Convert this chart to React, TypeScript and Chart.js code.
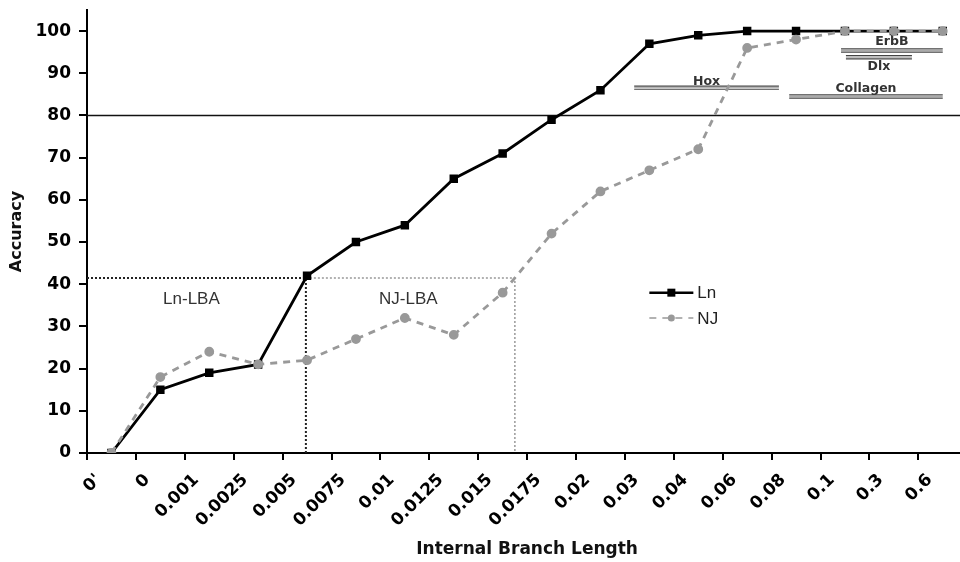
import React, { useEffect, useRef } from 'react';
import { Chart, registerables } from 'chart.js';

Chart.register(...registerables);

const categories = ["0'", '0', '0.001', '0.0025', '0.005', '0.0075', '0.01', '0.0125', '0.015', '0.0175', '0.02', '0.03', '0.04', '0.06', '0.08', '0.1', '0.3', '0.6'];
const lnValues = [0, 15, 19, 21, 42, 50, 54, 65, 71, 79, 86, 97, 99, 100, 100, 100, 100, 100];
const njValues = [0, 18, 24, 21, 22, 27, 32, 28, 38, 52, 62, 67, 72, 96, 98, 100, 100, 100];
const seriesNames = ['Ln', 'NJ'];
const yMax = 100;
const yStep = 10;
const thresholdLevel = 80;
const lbaLevel = 41.5;
const lbaLabels = ['Ln-LBA', 'NJ-LBA'];
const geneNames = ['Hox', 'Collagen', 'ErbB', 'Dlx'];
const geneFrom = [10.69, 13.86, 14.92, 15.02];
const geneTo = [13.65, 17.0, 17.0, 16.37];
const geneLevel = [86.6, 84.5, 95.4, 93.8];
const geneLabelLevel = [88.1, 86.4, 97.4, 91.5];

const TICK_FONT = { family: '"DejaVu Sans", Verdana, sans-serif', size: 17, weight: 'bold' as const };
const XTITLE_FONT = { family: '"DejaVu Sans", Verdana, sans-serif', size: 17, weight: 'bold' as const };
const YTITLE_FONT = { family: '"DejaVu Sans", Verdana, sans-serif', size: 16, weight: 'bold' as const };

const CANVAS_W = 974;
const CANVAS_H = 562;

function crossX(values: number[], level: number, xs: any): number {
  for (let i = 0; i < values.length - 1; i++) {
    if (values[i] < level && values[i + 1] >= level) {
      const f = (level - values[i]) / (values[i + 1] - values[i]);
      const a = xs.getPixelForValue(i);
      const b = xs.getPixelForValue(i + 1);
      return a + f * (b - a);
    }
  }
  return xs.getPixelForValue(0);
}

const overlay = {
  id: 'overlay',
  beforeDatasetsDraw(chart: any) {
    const { ctx, chartArea, scales } = chart;
    const xs = scales.x;
    const ys = scales.y;
    ctx.save();
    const yT = ys.getPixelForValue(thresholdLevel);
    ctx.strokeStyle = '#111';
    ctx.lineWidth = 1.5;
    ctx.beginPath();
    ctx.moveTo(chartArea.left, yT);
    ctx.lineTo(chartArea.right, yT);
    ctx.stroke();

    const yL = ys.getPixelForValue(lbaLevel);
    const yB = ys.getPixelForValue(0);
    const xLn = crossX(lnValues, lbaLevel, xs);
    const xNj = crossX(njValues, lbaLevel, xs);
    ctx.setLineDash([2, 2]);
    ctx.strokeStyle = '#999';
    ctx.lineWidth = 1.5;
    ctx.beginPath();
    ctx.moveTo(xLn, yL);
    ctx.lineTo(xNj, yL);
    ctx.lineTo(xNj, yB);
    ctx.stroke();
    ctx.strokeStyle = '#222';
    ctx.lineWidth = 2;
    ctx.beginPath();
    ctx.moveTo(chartArea.left, yL);
    ctx.lineTo(xLn, yL);
    ctx.lineTo(xLn, yB);
    ctx.stroke();
    ctx.setLineDash([]);

    ctx.fillStyle = '#333';
    ctx.font = '17px "Liberation Sans", Arial, sans-serif';
    ctx.textAlign = 'center';
    ctx.textBaseline = 'middle';
    const yText = ys.getPixelForValue(lbaLevel - 5.1);
    ctx.fillText(lbaLabels[0], chartArea.left + (xLn - chartArea.left) * 0.477, yText);
    ctx.fillText(lbaLabels[1], xLn + (xNj - xLn) * 0.49, yText);

    for (let i = 0; i < geneNames.length; i++) {
      const x0 = xs.getPixelForValue(geneFrom[i]);
      const x1 = xs.getPixelForValue(geneTo[i]);
      const yg = ys.getPixelForValue(geneLevel[i]);
      ctx.strokeStyle = '#aaa';
      ctx.lineWidth = 1;
      ctx.beginPath();
      ctx.moveTo(x0, yg);
      ctx.lineTo(x1, yg);
      ctx.stroke();
      ctx.strokeStyle = '#444';
      ctx.lineWidth = 1.2;
      ctx.beginPath();
      ctx.moveTo(x0, yg - 1.6);
      ctx.lineTo(x1, yg - 1.6);
      ctx.moveTo(x0, yg + 1.6);
      ctx.lineTo(x1, yg + 1.6);
      ctx.stroke();
      ctx.fillStyle = '#333';
      ctx.font = 'bold 12.5px "DejaVu Sans", Verdana, sans-serif';
      ctx.fillText(geneNames[i], (x0 + x1) / 2, ys.getPixelForValue(geneLabelLevel[i]));
    }
    ctx.restore();
  },
  afterDatasetsDraw(chart: any) {
    const { ctx, scales } = chart;
    const xs = scales.x;
    const ys = scales.y;
    const lx0 = xs.getPixelForValue(11);
    const lx1 = lx0 + 44;
    const ly = [ys.getPixelForValue(38), ys.getPixelForValue(32)];
    ctx.save();
    const ds = chart.data.datasets;
    for (let i = 0; i < ds.length; i++) {
      const d = ds[i];
      ctx.strokeStyle = d.borderColor;
      ctx.lineWidth = i === 0 ? 2.5 : 1.5;
      ctx.setLineDash(d.borderDash || []);
      ctx.beginPath();
      ctx.moveTo(lx0, ly[i]);
      ctx.lineTo(lx1, ly[i]);
      ctx.stroke();
      ctx.setLineDash([]);
      ctx.fillStyle = d.pointBackgroundColor;
      const mx = (lx0 + lx1) / 2;
      if (d.pointStyle === 'rect') {
        ctx.fillRect(mx - 4, ly[i] - 4, 8, 8);
      } else {
        ctx.beginPath();
        ctx.arc(mx, ly[i], 3.5, 0, Math.PI * 2);
        ctx.fill();
      }
      ctx.fillStyle = '#222';
      ctx.font = '17px "Liberation Sans", Arial, sans-serif';
      ctx.textAlign = 'left';
      ctx.textBaseline = 'middle';
      ctx.fillText(d.label, lx1 + 4, ly[i] + 1);
    }
    ctx.restore();
  },
};

export default function App() {
  const ref = useRef<HTMLCanvasElement | null>(null);
  useEffect(() => {
    if (!ref.current) return;
    const chart = new Chart(ref.current, {
      type: 'line',
      data: {
        labels: categories,
        datasets: [
          {
            label: seriesNames[0],
            data: lnValues,
            borderColor: '#000',
            backgroundColor: '#000',
            pointBackgroundColor: '#000',
            pointBorderColor: '#000',
            pointStyle: 'rect',
            pointRadius: 4,
            borderWidth: 2.8,
            tension: 0,
            order: 2,
          },
          {
            label: seriesNames[1],
            data: njValues,
            borderColor: '#999',
            backgroundColor: '#999',
            pointBackgroundColor: '#999',
            pointBorderColor: '#999',
            pointStyle: 'circle',
            pointRadius: 3.5,
            borderWidth: 2.8,
            borderDash: [7, 6],
            tension: 0,
            order: 1,
          },
        ],
      },
      options: {
        animation: false,
        responsive: false,
        maintainAspectRatio: false,
        layout: { padding: { top: 10, right: 0, left: 0, bottom: 0 } },
        plugins: { legend: { display: false }, tooltip: { enabled: false } },
        scales: {
          x: {
            type: 'category',
            offset: true,
            grid: { offset: true, drawOnChartArea: false, tickLength: 7, color: '#000', lineWidth: 2 },
            border: { color: '#000', width: 2 },
            ticks: { autoSkip: false, minRotation: 45, maxRotation: 45, color: '#000', font: TICK_FONT, padding: 10, labelOffset: -13 },
            title: { display: true, text: 'Internal Branch Length', color: '#111', font: XTITLE_FONT, padding: { top: 0, bottom: 2 } },
            afterFit: (s: any) => { s.height = 109; s.paddingRight = 0; s.paddingLeft = 0; },
          },
          y: {
            min: 0,
            max: 105,
            grid: { drawOnChartArea: false, tickLength: 8, color: '#000', lineWidth: 2 },
            border: { color: '#000', width: 2 },
            ticks: { stepSize: yStep, color: '#000', font: TICK_FONT, padding: 8 },
            afterBuildTicks: (s: any) => { s.ticks = s.ticks.filter((t: any) => t.value <= yMax); },
            title: { display: true, text: 'Accuracy', color: '#111', font: YTITLE_FONT, padding: { top: 7, bottom: 0 } },
            afterFit: (s: any) => { s.width = 87; s.paddingTop = 0; s.paddingBottom = 0; },
          },
        },
      },
      plugins: [overlay],
    });
    return () => chart.destroy();
  }, []);
  return (
    <div style={{ position: 'fixed', left: 0, top: 0, width: CANVAS_W, height: CANVAS_H, background: '#fff' }}>
      <canvas ref={ref} width={CANVAS_W} height={CANVAS_H} style={{ width: CANVAS_W, height: CANVAS_H }} />
    </div>
  );
}
